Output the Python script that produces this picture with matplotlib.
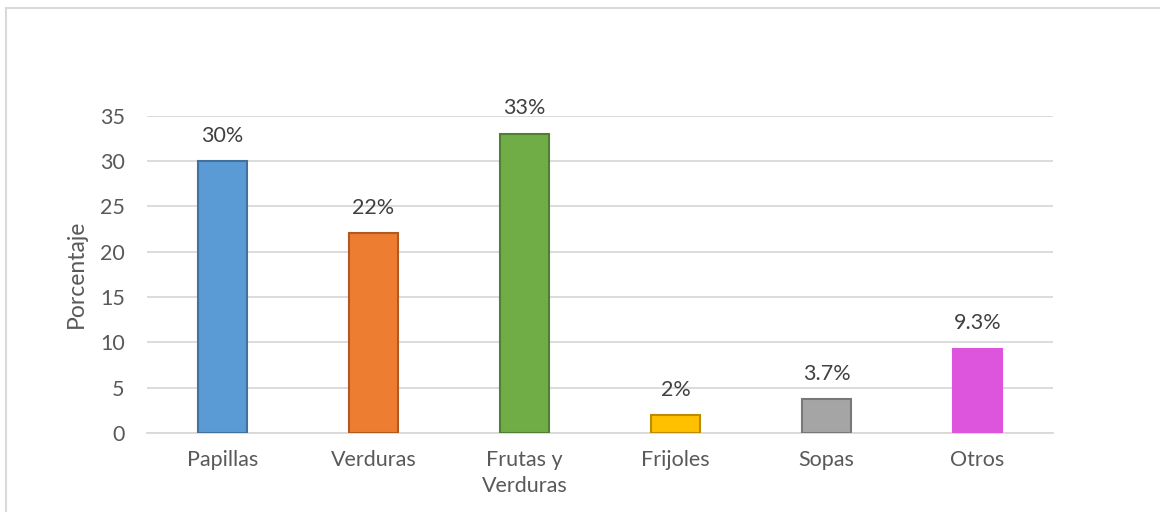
import matplotlib.pyplot as plt
from matplotlib.lines import Line2D

categorias = ['Papillas', 'Verduras', 'Frutas y\nVerduras', 'Frijoles', 'Sopas', 'Otros']
porcentajes = [30, 22, 33, 2, 3.7, 9.3]
etiquetas = ['30%', '22%', '33%', '2%', '3.7%', '9.3%']
colores = ['#5B9BD5', '#ED7D31', '#70AD47', '#FFC000', '#A5A5A5', '#DD55DD']
bordes = ['#41719C', '#AE5A21', '#507E32', '#BC8C00', '#787878', '#DD55DD']

plt.rcParams['font.family'] = ['Lato', 'DejaVu Sans']
FS = 15.5

fig = plt.figure(figsize=(11.6, 5.12), dpi=100)
ax = fig.add_axes([0.1267, 0.1543, 0.781, 0.62])

x = range(len(categorias))
barras = ax.bar(x, porcentajes, width=0.32, color=colores, edgecolor=bordes,
                linewidth=1.5, zorder=3)

for b, txt in zip(barras, etiquetas):
    ax.annotate(txt, (b.get_x() + b.get_width() / 2, b.get_height()),
                xytext=(0, 11), textcoords='offset points', ha='center',
                va='bottom', fontsize=FS, color='#404040', annotation_clip=False)

ax.set_xlim(-0.5, len(categorias) - 0.5)
ax.set_ylim(0, 35)
ax.set_yticks(range(0, 36, 5))
ax.set_xticks(list(x))
ax.set_xticklabels(categorias, fontsize=FS, color='#595959', linespacing=1.4)
ax.tick_params(axis='y', labelsize=FS, labelcolor='#595959', length=0, pad=16)
ax.tick_params(axis='x', length=0, pad=12)
ax.grid(axis='y', color='#D9D9D9', linewidth=1.3, zorder=0)
for s in ['top', 'right', 'left']:
    ax.spines[s].set_visible(False)
ax.spines['bottom'].set_color('#D9D9D9')
ax.spines['bottom'].set_linewidth(1.3)
ax.set_ylabel('Porcentaje', fontsize=FS + 1, color='#595959', labelpad=9)

# borde del gráfico
fig.add_artist(Line2D([6 / 1160, 6 / 1160], [0, 1 - 8 / 512], color='#D9D9D9', linewidth=1.5))
fig.add_artist(Line2D([6 / 1160, 1], [1 - 8 / 512, 1 - 8 / 512], color='#D9D9D9', linewidth=1.5))

fig.savefig('out.png', dpi=100)
